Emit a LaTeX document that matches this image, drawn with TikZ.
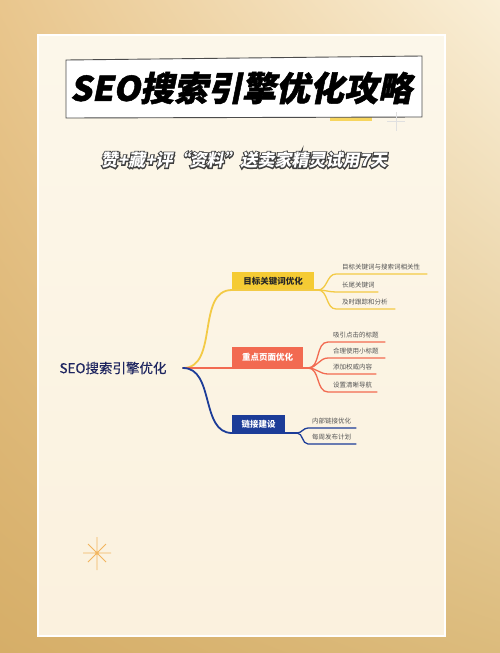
\documentclass[tikz,border=0pt]{standalone}
\usepackage{fontspec}
\newfontfamily\cjk{Noto Sans CJK SC}
\newfontfamily\cjkmed[FakeBold=0.35]{Noto Sans CJK SC}
\newfontfamily\cjkit[FakeSlant=0.18]{Noto Sans CJK SC}
\newfontfamily\cjktitle[FakeSlant=0.2,FakeBold=1.4]{Noto Sans CJK SC}
\usetikzlibrary{shadings}
\definecolor{bgUL}{HTML}{E9C68D}
\definecolor{bgUR}{HTML}{FAEFD7}
\definecolor{bgLL}{HTML}{D6AE68}
\definecolor{bgLR}{HTML}{DCBB7C}
\definecolor{cardtop}{HTML}{FCF7EA}
\definecolor{cardbot}{HTML}{FBF1DE}
\definecolor{ycol}{HTML}{F5CB34}
\definecolor{yline}{HTML}{F3CA45}
\definecolor{rcol}{HTML}{F26A51}
\definecolor{bcol}{HTML}{1C3C98}
\definecolor{rootcol}{HTML}{1E2560}
\definecolor{leafgray}{HTML}{555555}
\definecolor{spark}{HTML}{F2B55E}
\definecolor{outl}{HTML}{404040}
\newcommand{\outlineon}{\special{pdf:literal direct 2 Tr 2.2 w 0.25 0.25 0.25 RG}}
\newcommand{\outlineoff}{\special{pdf:literal direct 0 Tr}}
\begin{document}
\begin{tikzpicture}[x=1pt,y=-1pt,
  leaf/.style={anchor=south west, inner sep=0pt, font=\cjk\fontsize{6.5}{7}\selectfont, text=leafgray},
  brline/.style={line width=1.8pt, line cap=round},
  lfline/.style={line width=1.3pt, line cap=round},
  bbox/.style={anchor=south west, inner sep=0pt, font=\cjk\bfseries\fontsize{8.5}{9}\selectfont},
  subw/.style={font=\cjkit\bfseries\fontsize{17}{18}\selectfont, inner sep=0pt}
]
\useasboundingbox (0,0) rectangle (500,653);
% background
\shade[upper left=bgUL, upper right=bgUR, lower left=bgLL, lower right=bgLR] (0,0) rectangle (500,653);
% card
\shade[top color=cardtop, bottom color=cardbot] (38,35) rectangle (445,636);
\draw[white, line width=1.5pt] (38,35) rectangle (445,636);
% title box
\fill[ycol!80] (330,114) rectangle (372,121);
\draw[fill=white, draw=black!70, line width=0.9pt] (66,60) -- (422,56) -- (422,117) -- (66,118) -- cycle;
\node[font=\cjktitle\bfseries\fontsize{34}{36}\selectfont, text=black, inner sep=0pt] (title) at (241,88) {SEO搜索引擎优化攻略};
% faint sparkle near title
\draw[black!12, line width=0.6pt] (396,112) -- (396,131) (387,121) -- (405,121);
% subtitle with outline: stroked dark layer, then white layer
\node[subw, text=outl] (subo) at (244,160) {\outlineon 赞+藏+评“资料”送卖家精灵试用7天\outlineoff};
\node[subw, text=white] (sub) at (244,160) {赞+藏+评“资料”送卖家精灵试用7天};
% root
\node[font=\cjkmed\fontsize{13.5}{14}\selectfont, text=rootcol, inner sep=0pt] (root) at (113,368) {SEO搜索引擎优化};
\coordinate (rs) at (183,368);
% branch boxes
\node[bbox, fill=ycol, text=black!85, minimum width=82pt, minimum height=18pt] (b1) at (232,290) {目标关键词优化};
\node[bbox, fill=rcol, text=white, minimum width=71pt, minimum height=21pt] (b2) at (232,368) {重点页面优化};
\node[bbox, fill=bcol, text=white, minimum width=53pt, minimum height=18pt] (b3) at (232,433) {链接建设};
\coordinate (yb) at (318,290);
\coordinate (rb) at (308,368);
\coordinate (bb) at (297,433);
\draw[brline, yline] (rs) to[out=0,in=180] (b1.south west) -- (yb);
\draw[brline, rcol] (rs) -- (b2.south west) -- (rb);
\draw[brline, bcol] (rs) to[out=0,in=180] (b3.south west) -- (bb);
% yellow leaves
\node[leaf] (y1) at (342,270) {目标关键词与搜索词相关性};
\node[leaf] (y2) at (342,288) {长尾关键词};
\node[leaf] (y3) at (342,305) {及时跟踪和分析};
\draw[lfline, yline] (yb) to[out=0,in=180] (336,274) -- (427,274);
\draw[lfline, yline] (yb) to[out=0,in=180] (336,292) -- (378,292);
\draw[lfline, yline] (yb) to[out=0,in=180] (336,309) -- (395,309);
% red leaves
\node[leaf] (r1) at (333,338) {吸引点击的标题};
\node[leaf] (r2) at (333,354) {合理使用小标题};
\node[leaf] (r3) at (333,370) {添加权威内容};
\node[leaf] (r4) at (333,388) {设置清晰导航};
\draw[lfline, rcol] (rb) to[out=0,in=180] (328,342) -- (385,342);
\draw[lfline, rcol] (rb) to[out=0,in=180] (328,358) -- (385,358);
\draw[lfline, rcol] (rb) to[out=0,in=180] (328,374) -- (376,374);
\draw[lfline, rcol] (rb) to[out=0,in=180] (328,392) -- (377,392);
% blue leaves
\node[leaf] (l1) at (312,424) {内部链接优化};
\node[leaf] (l2) at (312,440) {每周发布计划};
\draw[lfline, bcol] (bb) to[out=0,in=180] (308,428) -- (356,428);
\draw[lfline, bcol] (bb) to[out=0,in=180] (308,444) -- (356,444);
% sparkle bottom-left
\draw[spark, line width=0.8pt] (97,537) -- (97,570) (83,553) -- (111,553)
  (88,544) -- (106,562) (88,562) -- (106,544);
\fill[spark] (97,553) circle (1.5);
\end{tikzpicture}
\end{document}
